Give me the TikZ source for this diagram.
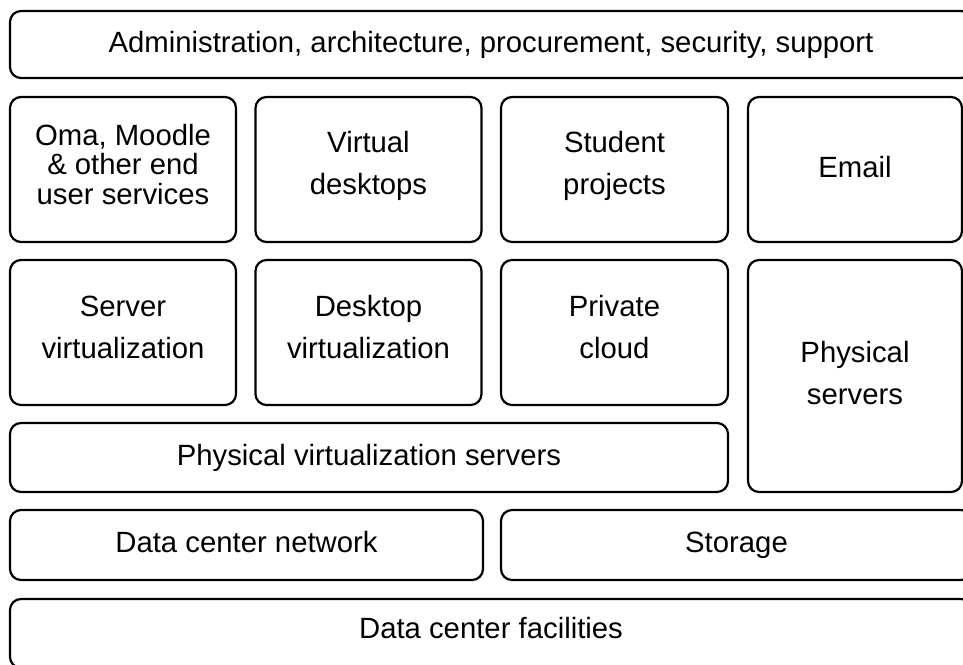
\documentclass[tikz,border=0pt]{standalone}
\usepackage{fontspec}
\setmainfont{Liberation Sans}
\begin{document}
\begin{tikzpicture}[x=1pt,y=-1pt,
  layer/.style={draw=black, line width=2.2pt, rounded corners=11pt,
    inner sep=0pt, outer sep=0pt, align=center,
    text height=21pt, text depth=6pt,
    font=\fontsize{29.3}{42}\selectfont},
  label/.style={inner sep=0pt, outer sep=0pt, align=center,
    font=\fontsize{29.3}{42}\selectfont},
  dense/.style={label, font=\fontsize{29.3}{29.5}\selectfont}]
  \useasboundingbox (0,0) rectangle (963,664);
  \clip (0,0) rectangle (963,664);
  % top band
  \node[layer,minimum width=962,minimum height=67] (admin) at (491,44.5)
    {Administration, architecture, procurement, security, support};
  % services
  \node[layer,minimum width=226,minimum height=145] (oma) at (123,169.5) {};
  \node[dense] (omatext) at (123,164.5) {Oma, Moodle\\\& other end\\user services};
  \node[layer,minimum width=226,minimum height=145] (vdesk) at (368.5,169.5) {};
  \node[label] (vdesktext) at (368.5,165.5) {Virtual\\desktops};
  \node[layer,minimum width=227,minimum height=145] (proj) at (614.5,169.5) {};
  \node[label] (projtext) at (614.5,165.5) {Student\\projects};
  \node[layer,minimum width=214,minimum height=145] (email) at (855,169.5)
    {Email};
  % platforms
  \node[layer,minimum width=226,minimum height=145] (srvvirt) at (123,332.5) {};
  \node[label] (srvvirttext) at (123,327.5) {Server\\virtualization};
  \node[layer,minimum width=226,minimum height=145] (deskvirt) at (368.5,332.5) {};
  \node[label] (deskvirttext) at (368.5,327.5) {Desktop\\virtualization};
  \node[layer,minimum width=227,minimum height=145] (cloud) at (614.5,332.5) {};
  \node[label] (cloudtext) at (614.5,327.5) {Private\\cloud};
  \node[layer,minimum width=214,minimum height=232] (physsrv) at (855,376) {};
  \node[label] (physsrvtext) at (855,373) {Physical\\servers};
  \node[layer,minimum width=718,minimum height=69] (virtsrv) at (369,457.5)
    {Physical virtualization servers};
  % infrastructure
  \node[layer,minimum width=473,minimum height=70] (net) at (246.5,545)
    {Data center network};
  \node[layer,minimum width=471,minimum height=70] (storage) at (736.5,545)
    {Storage};
  \node[layer,minimum width=962,minimum height=69] (facil) at (491,633.5) {};
  \node[layer,draw=none] (faciltext) at (491,630.5) {Data center facilities};
\end{tikzpicture}
\end{document}
